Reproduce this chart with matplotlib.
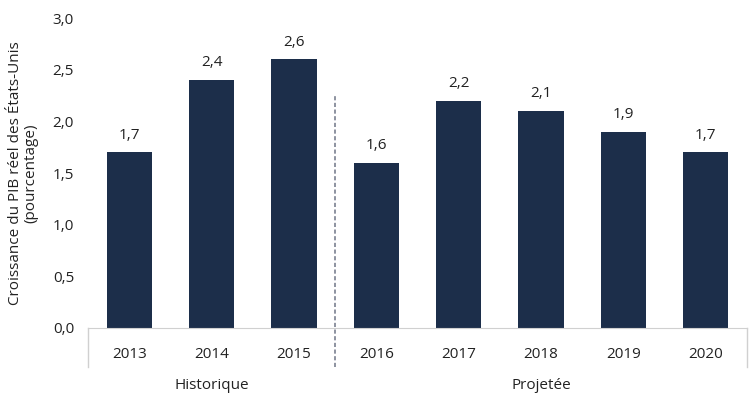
import numpy as np
import matplotlib.pyplot as plt

years = ["2013", "2014", "2015", "2016", "2017", "2018", "2019", "2020"]
growth = [1.7, 2.4, 2.6, 1.6, 2.2, 2.1, 1.9, 1.7]
groups = ["Historique", "Projetée"]
group_spans = [(0, 3), (3, 8)]

plt.rcParams['font.family'] = ['Open Sans', 'DejaVu Sans']
fs = 11
tc = "#222222"

fig = plt.figure(figsize=(7.5, 4.12), dpi=100)
ax = fig.add_axes([0.1173, 0.204, 0.996 - 0.1173, 0.752])

x = np.arange(len(years))
ax.bar(x, growth, width=0.55, color="#1c2e4a", zorder=2)
for xi, v in zip(x, growth):
    ax.annotate(f"{v:.1f}".replace(".", ","), (xi, v), xytext=(0, 7),
                textcoords="offset points", ha="center", va="bottom",
                fontsize=fs, color=tc)

ax.set_xlim(-0.5, len(years) - 0.5)
ax.set_ylim(0, 3.0)
yt = np.arange(0, 3.01, 0.5)
ax.set_yticks(yt)
ax.set_yticklabels([f"{t:.1f}".replace(".", ",") for t in yt], fontsize=fs, color=tc)
ax.set_xticks([])
ax.tick_params(axis="y", length=0, pad=10)
for s in ["top", "right", "left"]:
    ax.spines[s].set_visible(False)
ax.spines["bottom"].set_color("#d0d0d0")

trans = ax.get_xaxis_transform()
for xi, yr in zip(x, years):
    ax.text(xi, -0.085, yr, transform=trans, ha="center", va="center",
            fontsize=fs, color=tc)
for b in [-0.5, len(years) - 0.5]:
    ax.plot([b, b], [0, -0.126], transform=trans, color="#d0d0d0", lw=1, clip_on=False)
ax.plot([2.5, 2.5], [-0.126, 0.755], transform=trans, color="#7a8090", lw=1.2,
        ls=(0, (2.5, 1.5)), clip_on=False)
for g, (a, b) in zip(groups, group_spans):
    ax.text((a + b - 1) / 2, -0.185, g, transform=trans, ha="center", va="center",
            fontsize=fs, color=tc)

fig.text(0.031, 0.58, "Croissance du PIB réel des États-Unis\n(pourcentage)",
         rotation=90, ha="center", va="center", fontsize=fs, color=tc,
         linespacing=1.0)

fig.savefig("out.png", dpi=100)
